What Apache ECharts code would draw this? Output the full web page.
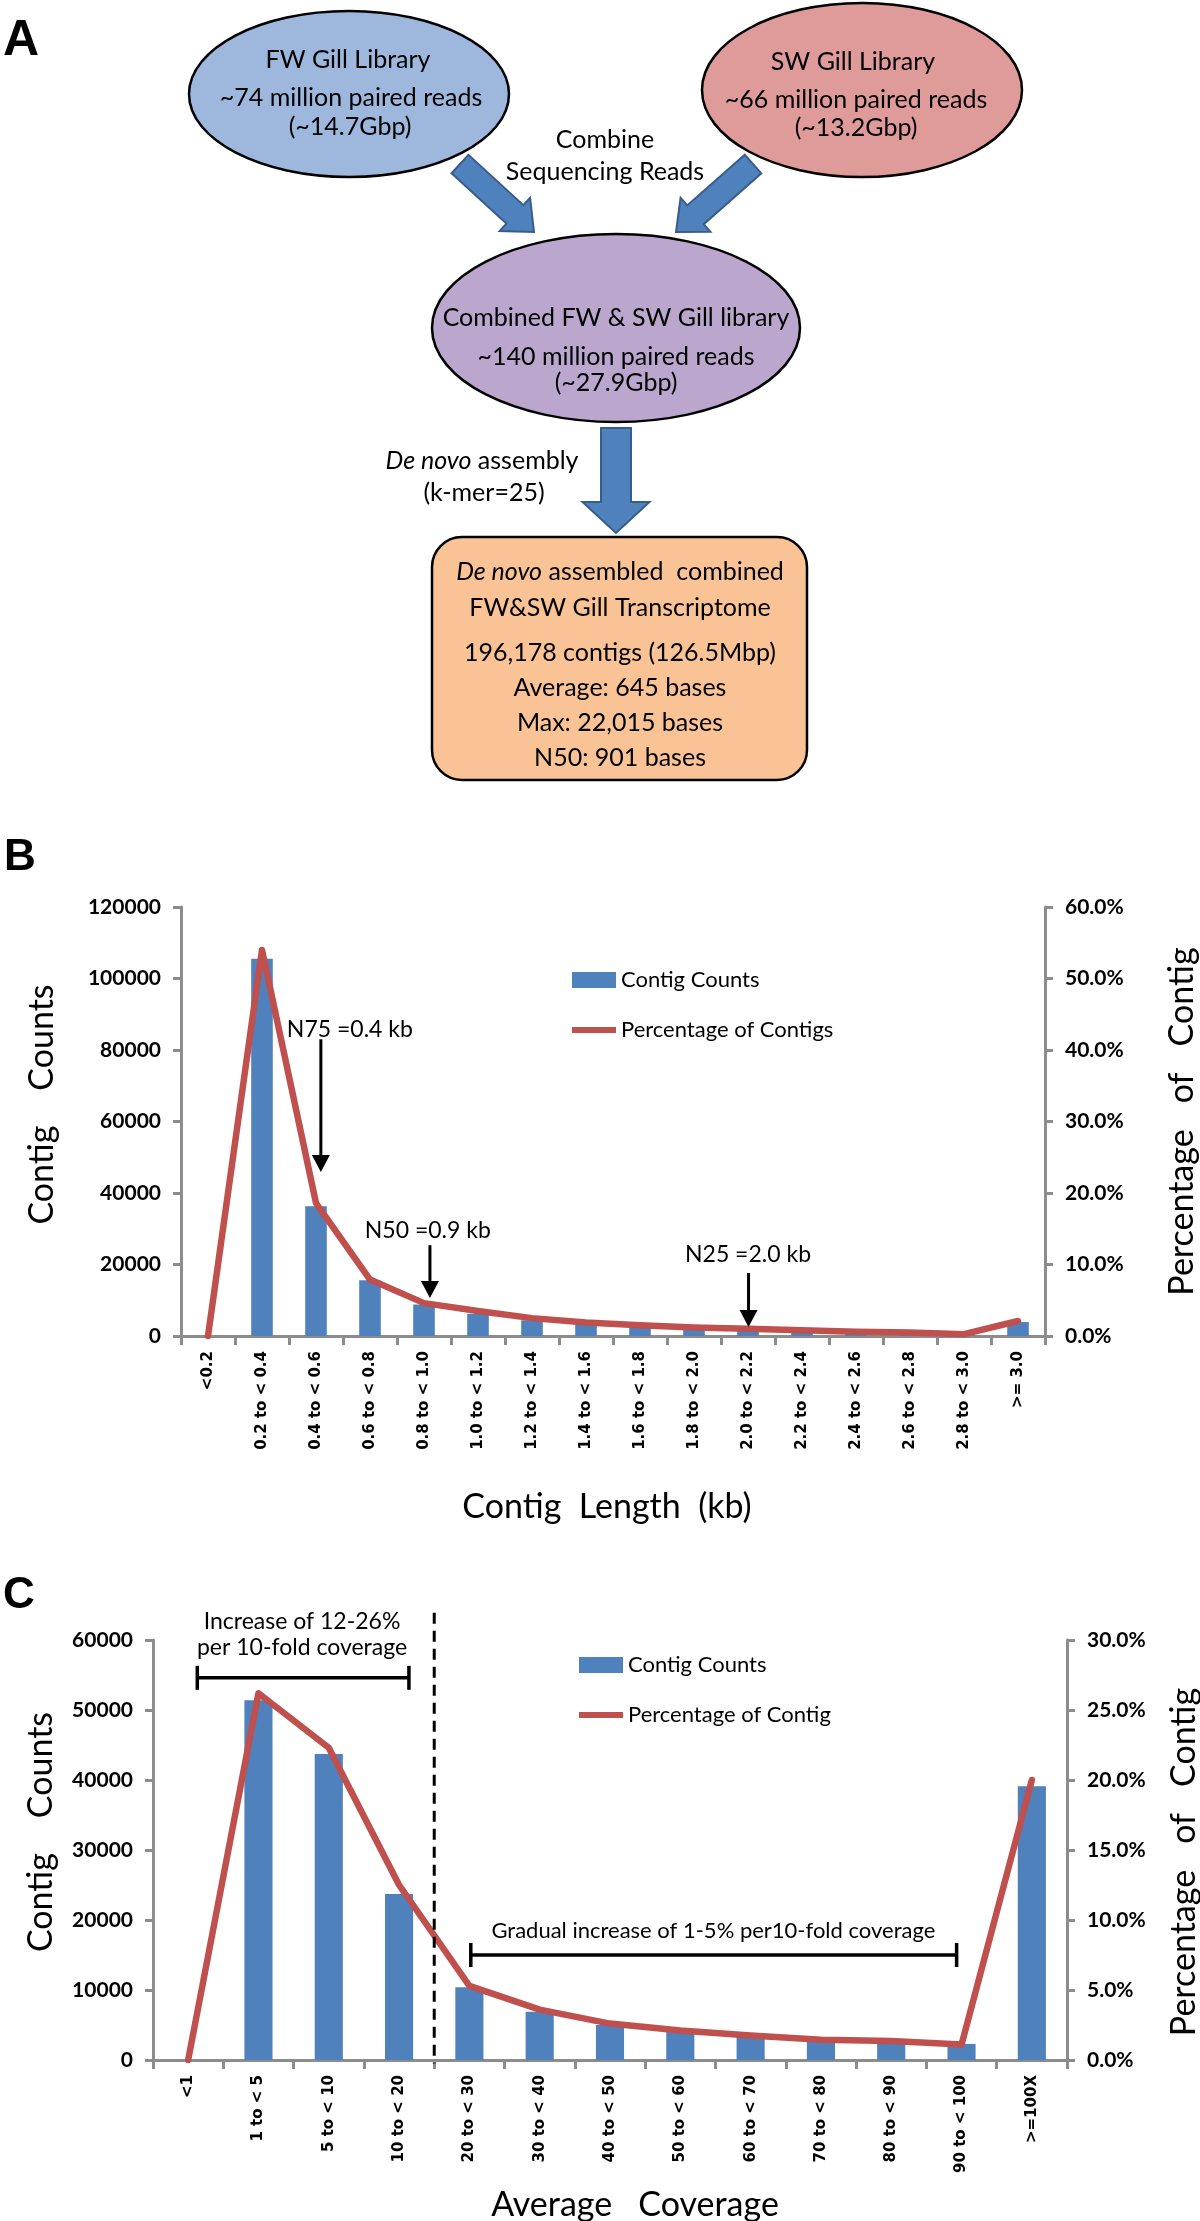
<!DOCTYPE html>
<html>
<head>
<meta charset="utf-8">
<title>Gill transcriptome assembly</title>
<script src="https://cdn.jsdelivr.net/npm/echarts@6/dist/echarts.min.js"></script>
<style>
    html, body { margin: 0; padding: 0; background: #fff; }
    #main { width: 1200px; height: 2221px; }
</style>
</head>
<body>
<div id="main"></div>
<script>
    // panel B: contig length distribution
    var lengthCats = ['<0.2', '0.2 to < 0.4', '0.4 to < 0.6', '0.6 to < 0.8', '0.8 to < 1.0', '1.0 to < 1.2',
        '1.2 to < 1.4', '1.4 to < 1.6', '1.6 to < 1.8', '1.8 to < 2.0', '2.0 to < 2.2', '2.2 to < 2.4',
        '2.4 to < 2.6', '2.6 to < 2.8', '2.8 to < 3.0', '>= 3.0'];
    var lengthCounts = [0, 105500, 36300, 15600, 8800, 6200, 4400, 3300, 2500, 2100, 1600, 1300, 1000, 900, 700, 3900];
    var lengthPct = [0, 54.0, 18.6, 7.9, 4.6, 3.5, 2.5, 1.9, 1.5, 1.2, 1.0, 0.8, 0.6, 0.5, 0.25, 2.1];

    // panel C: average coverage distribution
    var coverageCats = ['<1', '1 to < 5', '5 to < 10', '10 to < 20', '20 to < 30', '30 to < 40', '40 to < 50',
        '50 to < 60', '60 to < 70', '70 to < 80', '80 to < 90', '90 to < 100', '>=100X'];
    var coverageCounts = [0, 51400, 43700, 23700, 10400, 6900, 5000, 4000, 3300, 2700, 2500, 2300, 39100];
    var coveragePct = [0, 26.2, 22.3, 12.5, 5.3, 3.6, 2.6, 2.1, 1.75, 1.45, 1.35, 1.1, 20.0];

    var BLUE = '#4F81BD', RED = '#C0504D', GREY = '#8C8C8C';
    var TXT = 'Lato, "Liberation Sans", sans-serif';

    var myChart = echarts.init(document.getElementById('main'));

    function valueAxis(grid, pos, max, step, pct, name, gap, pad) {
        return {
            type: 'value', gridIndex: grid, position: pos, min: 0, max: max, interval: step,
            axisLine: { show: true, lineStyle: { color: GREY, width: 3 } },
            axisTick: { show: true, length: 8, lineStyle: { color: GREY, width: 3 } },
            splitLine: { show: false },
            axisLabel: {
                margin: 20, color: '#000', fontFamily: TXT, fontWeight: 'bold', fontSize: 21,
                formatter: pct ? function (v) { return v.toFixed(1) + '%'; } : function (v) { return String(v); }
            },
            name: name, nameLocation: 'middle', nameRotate: 90, nameGap: gap,
            nameTextStyle: { fontFamily: TXT, fontSize: 34, color: '#000', padding: pad }
        };
    }

    function catAxis(grid, cats, name, gap, pad) {
        return {
            type: 'category', gridIndex: grid, data: cats,
            axisLine: { lineStyle: { color: GREY, width: 3 } },
            axisTick: { show: true, length: 9, interval: 0, lineStyle: { color: GREY, width: 3 } },
            axisLabel: {
                interval: 0, rotate: 90, margin: 15, color: '#000',
                fontFamily: '"DejaVu Sans", Verdana, sans-serif', fontWeight: 'bold', fontSize: 15
            },
            name: name, nameLocation: 'middle', nameGap: gap,
            nameTextStyle: { fontFamily: TXT, fontSize: 34, color: '#000', padding: pad }
        };
    }

    var lineIcon = 'path://M0,0L0,0M0,5L44,5L44,11L0,11ZM44,16L44,16';
    function legendFor(names, left, top) {
        return {
            orient: 'vertical', left: left, top: top, itemWidth: 44, itemHeight: 16, itemGap: 28,
            data: [{ name: names[0], icon: 'rect' }, { name: names[1], icon: lineIcon }],
            textStyle: { fontFamily: TXT, fontSize: 22, color: '#000' }
        };
    }

    // panel A flow chart
    function txt(x, y, s, size, rich) {
        var st = {
            text: s, fill: '#000', font: size + 'px ' + TXT,
            align: 'center', verticalAlign: 'middle', textAlign: 'center', textVerticalAlign: 'middle'
        };
        if (rich) st.rich = rich;
        return { type: 'text', x: x, y: y, z: 10, style: st };
    }
    function blockArrow(x1, y1, x2, y2, sw, hw, hl) {
        var dx = x2 - x1, dy = y2 - y1, L = Math.sqrt(dx * dx + dy * dy);
        var ux = dx / L, uy = dy / L, nx = -uy, ny = ux;
        var bx = x2 - ux * hl, by = y2 - uy * hl;
        return {
            type: 'polygon', z: 5,
            shape: { points: [
                [x1 + nx * sw / 2, y1 + ny * sw / 2], [bx + nx * sw / 2, by + ny * sw / 2],
                [bx + nx * hw / 2, by + ny * hw / 2], [x2, y2],
                [bx - nx * hw / 2, by - ny * hw / 2], [bx - nx * sw / 2, by - ny * sw / 2],
                [x1 - nx * sw / 2, y1 - ny * sw / 2]] },
            style: { fill: BLUE, stroke: '#385D8A', lineWidth: 2 }
        };
    }
    var FS = 25;
    var ital = { i: { fontStyle: 'italic', fontFamily: TXT, fontSize: FS } };
    var flow = [
        { type: 'text', left: 3, top: 16, style: { text: 'A', font: 'bold 50px "Liberation Sans", Arial', fill: '#000' } },
        { type: 'text', left: 4, top: 836, style: { text: 'B', font: 'bold 44px "Liberation Sans", Arial', fill: '#000' } },
        { type: 'text', left: 3, top: 1574, style: { text: 'C', font: 'bold 44px "Liberation Sans", Arial', fill: '#000' } },
        { type: 'ellipse', shape: { cx: 349, cy: 94, rx: 160, ry: 83 }, style: { fill: '#9DB8DC', stroke: '#000', lineWidth: 2.5 } },
        { type: 'ellipse', shape: { cx: 862, cy: 90, rx: 160, ry: 87 }, style: { fill: '#DF9B9A', stroke: '#000', lineWidth: 2.5 } },
        { type: 'ellipse', shape: { cx: 616, cy: 328, rx: 184, ry: 94 }, style: { fill: '#BBA6CD', stroke: '#000', lineWidth: 2.5 } },
        { type: 'rect', shape: { x: 432, y: 537, width: 375, height: 243, r: 30 }, style: { fill: '#F9C396', stroke: '#000', lineWidth: 2.5 } },
        blockArrow(460, 164, 534, 232, 25, 45, 26),
        blockArrow(753, 164, 676, 232, 25, 45, 26),
        blockArrow(616, 428, 616, 533, 30, 67, 31),
        txt(348, 60, 'FW Gill Library', FS),
        txt(351, 98, '~74 million paired reads', FS),
        txt(350, 127, '(~14.7Gbp)', FS),
        txt(853, 62, 'SW Gill Library', FS),
        txt(856, 100, '~66 million paired reads', FS),
        txt(856, 128, '(~13.2Gbp)', FS),
        txt(605, 140, 'Combine', FS),
        txt(605, 172, 'Sequencing Reads', FS),
        txt(616, 318, 'Combined FW & SW Gill library', FS),
        txt(616, 357, '~140 million paired reads', FS),
        txt(616, 383, '(~27.9Gbp)', FS),
        txt(482, 461, '{i|De novo} assembly', FS, ital),
        txt(484, 493, '(k-mer=25)', FS),
        txt(620, 572, '{i|De novo} assembled  combined', FS, ital),
        txt(620, 608, 'FW&SW Gill Transcriptome', FS),
        txt(620, 653, '196,178 contigs (126.5Mbp)', FS),
        txt(620, 688, 'Average: 645 bases', FS),
        txt(620, 723, 'Max: 22,015 bases', FS),
        txt(620, 758, 'N50: 901 bases', FS)
    ];

    var option = {
        animation: false,
        backgroundColor: '#fff',
        grid: [
            { left: 181, right: 155, top: 907, bottom: 885, outerBoundsMode: 'none' },
            { left: 153, right: 133, top: 1640, bottom: 161, outerBoundsMode: 'none' }
        ],
        legend: [
            legendFor(['Contig Counts', 'Percentage of Contigs'], 567, 964),
            legendFor(['Contig Counts', 'Percentage of Contig'], 574, 1649)
        ],
        xAxis: [
            catAxis(0, lengthCats, 'Contig  Length  (kb)', 154, [0, 12, 0, 0]),
            catAxis(1, coverageCats, 'Average   Coverage', 128, [0, 0, 0, 50])
        ],
        yAxis: [
            valueAxis(0, 'left', 120000, 20000, false, 'Contig    Counts', 122, [0, 0, 0, 34]),
            valueAxis(0, 'right', 60, 10, true, 'Percentage   of   Contig', 120, 0),
            valueAxis(1, 'left', 60000, 10000, false, 'Contig    Counts', 95, [0, 0, 0, 36]),
            valueAxis(1, 'right', 30, 5, true, 'Percentage   of   Contig', 100, [0, 24, 0, 0])
        ],
        series: [
            { name: 'Contig Counts', type: 'bar', xAxisIndex: 0, yAxisIndex: 0, data: lengthCounts,
              barWidth: '40%', itemStyle: { color: BLUE } },
            { name: 'Percentage of Contigs', type: 'line', xAxisIndex: 0, yAxisIndex: 1, data: lengthPct,
              symbol: 'none', z: 3, itemStyle: { color: RED },
              lineStyle: { color: RED, width: 6.5, join: 'round', cap: 'round' } },
            { name: 'Contig Counts', type: 'bar', xAxisIndex: 1, yAxisIndex: 2, data: coverageCounts,
              barWidth: '40%', itemStyle: { color: BLUE } },
            { name: 'Percentage of Contig', type: 'line', xAxisIndex: 1, yAxisIndex: 3, data: coveragePct,
              symbol: 'none', z: 3, itemStyle: { color: RED },
              lineStyle: { color: RED, width: 6.5, join: 'round', cap: 'round' } }
        ],
        graphic: flow
    };
    myChart.setOption(option);

    // annotations placed through the axes (category index may be fractional)
    function pt(g, cat, val) {
        var cats = g === 0 ? lengthCats : coverageCats;
        var f = { xAxisIndex: g, yAxisIndex: g * 2 };
        var p0 = myChart.convertToPixel(f, [cats[0], val]);
        var p1 = myChart.convertToPixel(f, [cats[1], val]);
        return [p0[0] + cat * (p1[0] - p0[0]), p0[1]];
    }
    function arrow(g, cat, v1, v2) {
        var a = pt(g, cat, v1), b = pt(g, cat, v2);
        return [
            { type: 'line', z: 20, shape: { x1: a[0], y1: a[1], x2: b[0], y2: b[1] - 12 }, style: { stroke: '#000', lineWidth: 3 } },
            { type: 'polygon', z: 20, shape: { points: [[b[0] - 9, b[1] - 17], [b[0] + 9, b[1] - 17], [b[0], b[1]]] }, style: { fill: '#000' } }
        ];
    }
    function note(g, cat, val, s, size, align) {
        var p = pt(g, cat, val);
        return { type: 'text', z: 20, x: p[0], y: p[1], style: {
            text: s, fill: '#000', font: size + 'px ' + TXT,
            align: align || 'center', textAlign: align || 'center', verticalAlign: 'middle', textVerticalAlign: 'middle' } };
    }
    function bracket(g, c1, c2, val) {
        var a = pt(g, c1, val), b = pt(g, c2, val), st = { stroke: '#000', lineWidth: 3.5 };
        return [
            { type: 'line', z: 20, shape: { x1: a[0], y1: a[1], x2: b[0], y2: b[1] }, style: st },
            { type: 'line', z: 20, shape: { x1: a[0], y1: a[1] - 12, x2: a[0], y2: a[1] + 12 }, style: st },
            { type: 'line', z: 20, shape: { x1: b[0], y1: b[1] - 12, x2: b[0], y2: b[1] + 12 }, style: st }
        ];
    }

    var notes = [].concat(
        note(0, 1.46, 85600, 'N75 =0.4 kb', 23, 'left'),
        arrow(0, 2.09, 83000, 45900),
        note(0, 4.07, 29400, 'N50 =0.9 kb', 23),
        arrow(0, 4.11, 25400, 10600),
        note(0, 10.0, 22900, 'N25 =2.0 kb', 23),
        arrow(0, 10.01, 17600, 2500),
        note(1, 1.62, 62600, 'Increase of 12-26%', 23),
        note(1, 1.62, 58900, 'per 10-fold coverage', 23),
        bracket(1, 0.13, 3.14, 54600),
        note(1, 7.47, 18400, 'Gradual increase of 1-5% per10-fold coverage', 22),
        bracket(1, 4.02, 10.93, 15000)
    );
    var d1 = pt(1, 3.5, 63900), d2 = pt(1, 3.5, -500);
    notes.push({ type: 'line', z: 20, shape: { x1: d1[0], y1: d1[1], x2: d2[0], y2: d2[1] },
        style: { stroke: '#000', lineWidth: 3, lineDash: [11, 7] } });

    myChart.setOption({ graphic: flow.concat(notes) });
</script>
</body>
</html>
